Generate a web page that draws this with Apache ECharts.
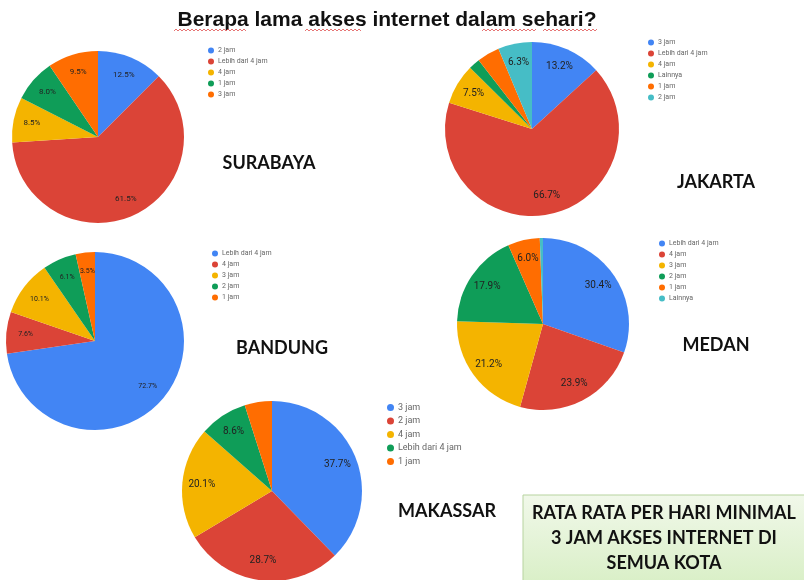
<!DOCTYPE html>
<html><head><meta charset="utf-8">
<script src="https://cdn.jsdelivr.net/npm/echarts@6/dist/echarts.min.js"></script>
<style>html,body{margin:0;padding:0;background:#fff}#c{width:804px;height:580px}</style>
</head><body><div id="c"></div>
<script>
// ---- data ----
const surabayaCats = ['2 jam','Lebih dari 4 jam','4 jam','1 jam','3 jam'];
const surabayaVals = [12.5, 61.5, 8.5, 8.0, 9.5];
const jakartaCats = ['3 jam','Lebih dari 4 jam','4 jam','Lainnya','1 jam','2 jam'];
const jakartaVals = [13.2, 66.7, 7.5, 2.1, 4.2, 6.3];
const bandungCats = ['Lebih dari 4 jam','4 jam','3 jam','2 jam','1 jam'];
const bandungVals = [72.7, 7.6, 10.1, 6.1, 3.5];
const medanCats = ['Lebih dari 4 jam','4 jam','3 jam','2 jam','1 jam','Lainnya'];
const medanVals = [30.4, 23.9, 21.2, 17.9, 6.0, 0.6];
const makassarCats = ['3 jam','2 jam','4 jam','Lebih dari 4 jam','1 jam'];
const makassarVals = [37.7, 28.7, 20.1, 8.6, 4.9];

const palette = ['#4285F4','#DB4437','#F4B400','#0F9D58','#FF6D01','#46BDC6'];

const cities = [
  {key:'Surabaya', cats:surabayaCats, vals:surabayaVals, center:[98,137], r:86, lblSize:8, minLbl:5,
   legend:{left:208, top:47, font:7, icon:6, gap:4}},
  {key:'Jakarta', cats:jakartaCats, vals:jakartaVals, center:[532,129], r:87, lblSize:10, minLbl:5,
   legend:{left:648, top:39, font:7, icon:6, gap:4}},
  {key:'Bandung', cats:bandungCats, vals:bandungVals, center:[95,341], r:89, lblSize:7, minLbl:3,
   legend:{left:212, top:250, font:7, icon:6, gap:4}},
  {key:'Medan', cats:medanCats, vals:medanVals, center:[543,324], r:86, lblSize:10, minLbl:5,
   legend:{left:659, top:240, font:7, icon:6, gap:4}},
  {key:'Makassar', cats:makassarCats, vals:makassarVals, center:[272,491], r:90, lblSize:10, minLbl:5,
   legend:{left:387, top:403, font:9, icon:7, gap:4.5}}
];

const series = [];
const legends = [];
cities.forEach(c => {
  const data = c.cats.map((n,i) => ({name: c.key + '|' + n, value: c.vals[i], itemStyle:{color: palette[i]}}));
  series.push({
    type:'pie', center:c.center, radius:c.r, startAngle:90, clockwise:true,
    label:{show:false}, labelLine:{show:false}, silent:true, animation:false,
    itemStyle:{borderWidth:0}, data:data
  });
  series.push({
    type:'pie', center:c.center, radius:[c.r*0.5, c.r], startAngle:90, clockwise:true,
    silent:true, animation:false, legendHoverLink:false,
    itemStyle:{color:'rgba(0,0,0,0)', borderWidth:0},
    label:{show:true, position:'inside', fontSize:c.lblSize, color:'#222', fontFamily:'Roboto',
      formatter: p => p.value >= c.minLbl ? p.value.toFixed(1) + '%' : ''},
    labelLine:{show:false},
    data: c.cats.map((n,i) => ({name: c.key + '|' + n, value: c.vals[i]}))
  });
  legends.push({
    orient:'vertical', left:c.legend.left, top:c.legend.top, icon:'circle',
    itemWidth:c.legend.icon, itemHeight:c.legend.icon, itemGap:c.legend.gap, padding:0,
    textStyle:{fontSize:c.legend.font, color:'#666', fontFamily:'Roboto', padding:[0,0,0,-1]},
    selectedMode:false,
    formatter: n => n.split('|')[1],
    data: c.cats.map(n => c.key + '|' + n)
  });
});

const cityLabels = [
  {text:'SURABAYA', x:269, y:163},
  {text:'JAKARTA', x:716, y:182},
  {text:'BANDUNG', x:282, y:348},
  {text:'MEDAN', x:716, y:345},
  {text:'MAKASSAR', x:447, y:511}
];
const titleText = 'Berapa lama akses internet dalam sehari?';
const noteLines = ['RATA RATA PER HARI MINIMAL','3 JAM AKSES INTERNET DI','SEMUA KOTA'];
// spell-check squiggles under words of the title: [x start, x end]
const squiggles = [[174,246],[305,362],[482,537],[543,597]];

const graphic = [
  {type:'text', x:387, y:20, style:{text:titleText,
    font:'bold 21px "Liberation Sans", Arial, sans-serif', fill:'#111', textAlign:'center', textVerticalAlign:'middle'}},
  {type:'rect', shape:{x:523, y:495, width:300, height:100},
   style:{fill:{type:'linear', x:0, y:0, x2:0, y2:1, colorStops:[{offset:0,color:'#f1f8ea'},{offset:1,color:'#d6eec2'}]},
     stroke:'#b7d39f', lineWidth:1}}
];
squiggles.forEach(([a,b]) => {
  const pts = [];
  for (let x = a, k = 0; x <= b; x += 2, k++) pts.push([x, k % 2 ? 29 : 31]);
  graphic.push({type:'polyline', shape:{points:pts}, style:{stroke:'#e05050', lineWidth:0.8, fill:null}});
});
cityLabels.forEach(l => graphic.push({type:'text', x:l.x, y:l.y,
  style:{text:l.text, font:'bold 18px Lato, "Open Sans", sans-serif', fill:'#111', textAlign:'center', textVerticalAlign:'middle'}}));
noteLines.forEach((t,i) => graphic.push({type:'text', x:664, y:513 + i*25,
  style:{text:t, font:'bold 18px Lato, "Open Sans", sans-serif', fill:'#111', textAlign:'center', textVerticalAlign:'middle'}}));

const chart = echarts.init(document.getElementById('c'), null, {renderer:'canvas'});
chart.setOption({
  backgroundColor:'#fff',
  animation:false,
  legend: legends,
  series: series,
  graphic: graphic
});
</script>
</body></html>
